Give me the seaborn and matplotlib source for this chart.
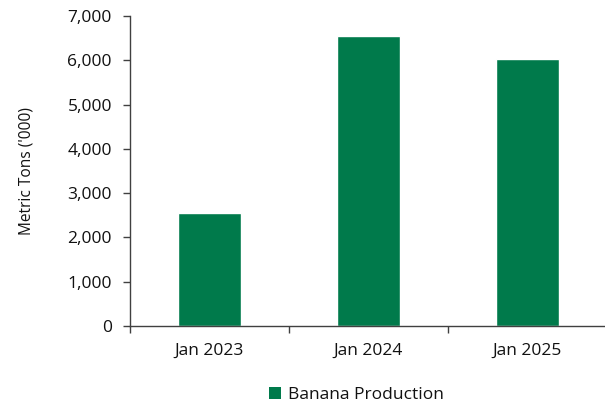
import matplotlib
matplotlib.use("Agg")
import matplotlib.pyplot as plt
import seaborn as sns
import pandas as pd
from matplotlib.patches import Patch
from matplotlib.ticker import FuncFormatter, FixedLocator

categories = ["Jan 2023", "Jan 2024", "Jan 2025"]
values = [2560, 6555, 6035]
series_name = "Banana Production"
y_ticks = [0, 1000, 2000, 3000, 4000, 5000, 6000, 7000]

color = "#007A4B"

sns.set_style("white")
plt.rcParams["font.family"] = ["Open Sans", "DejaVu Sans"]

df = pd.DataFrame({"Month": categories, "Value": values})

fig = plt.figure(figsize=(6.05, 4.04), dpi=100)
ax = fig.add_axes([130/605, 1-326/404, 477/605, 310/404])

sns.barplot(data=df, x="Month", y="Value", color=color, width=0.4,
            saturation=1, ax=ax)

ax.set_xlim(-0.5, 2.5)
ax.set_ylim(0, 7000)
ax.set_yticks(y_ticks)
ax.yaxis.set_major_formatter(FuncFormatter(lambda v, p: f"{int(v):,}"))
ax.set_xlabel("")
ax.set_ylabel("Metric Tons ('000)", fontsize=11.2, labelpad=24, color="#111111")

for s in ["top", "right"]:
    ax.spines[s].set_visible(False)
for s in ["left", "bottom"]:
    ax.spines[s].set_color("#404040")
    ax.spines[s].set_linewidth(1.0)

ax.tick_params(axis="y", which="major", length=5, width=1, color="#404040",
               direction="out", left=True, pad=8, labelsize=12.5, labelcolor="#111111")
ax.tick_params(axis="x", which="major", length=0, pad=12, labelsize=12.5,
               labelcolor="#111111")
ax.xaxis.set_minor_locator(FixedLocator([-0.5, 0.5, 1.5, 2.5]))
ax.tick_params(axis="x", which="minor", length=5, width=1, color="#404040",
               direction="out", bottom=True)

fig.legend(handles=[Patch(facecolor=color, edgecolor="none", label=series_name)],
           loc="center", bbox_to_anchor=(356/605, 1-395/404), frameon=False,
           fontsize=12.5, handlelength=0.7, handleheight=0.7, handletextpad=0.4,
           labelcolor="#111111")

fig.savefig("out.png", dpi=100)
